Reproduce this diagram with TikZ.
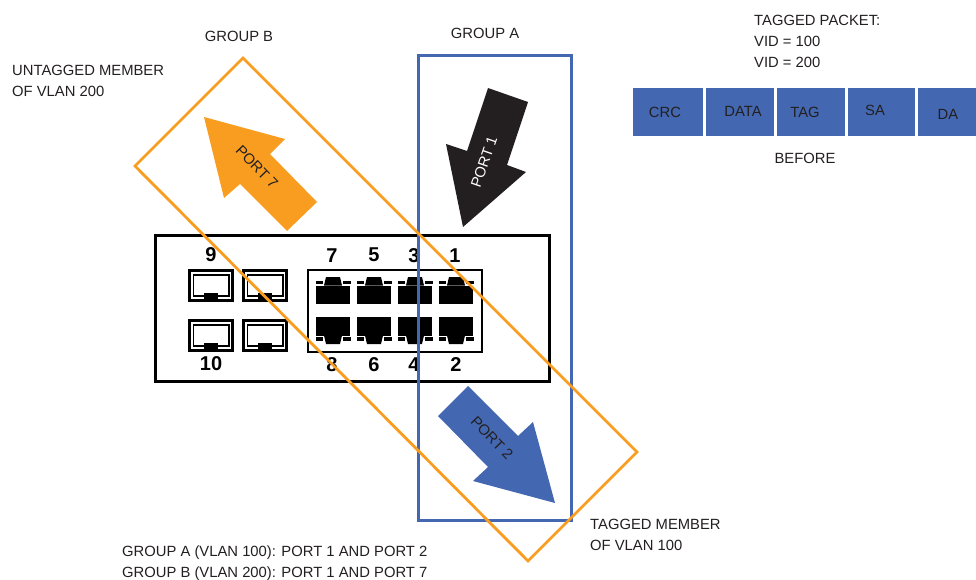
\documentclass[tikz,border=0pt]{standalone}
\usepackage{fontspec}
\setmainfont{Liberation Sans}
\usepackage{xcolor}
\usetikzlibrary{positioning,shapes}
\definecolor{vlanblue}{HTML}{4368B1}
\definecolor{vlanorange}{HTML}{F99D20}
\definecolor{inkblack}{HTML}{231F20}
\tikzset{
  caption/.style = {inner sep = 0, text = inkblack, align = left, font = \fontsize{14.8}{21}\selectfont},
  portnum/.style = {inner sep = 0, text = black, font = \fontsize{20}{20}\selectfont\bfseries},
  portarrow/.style = {inner sep = 0, text = inkblack, font = \fontsize{14.8}{16}\selectfont},
  groupbox/.style = {line width = 2.8},
  packetbox/.style = {fill = vlanblue},
  pics/sfp/.style = {code = {
    \draw[line width = 3] (1.5, 1.5) rectangle (44.5, 31.5);
    \draw[line width = 1.5] (5.5, 6) rectangle (41, 27);
    \fill (16, 24) rectangle (30, 31);
  }},
  pics/rjtop/.style = {code = {
    \fill (-17, 8.5) rectangle (17, 27);
    \fill (-7, 0) -- (7, 0) -- (9, 8.5) -- (-9, 8.5) -- cycle;
    \fill (-17, 3.5) rectangle (-10, 6.8);
    \fill (10, 3.5) rectangle (18, 6.8);
  }},
  pics/rjbottom/.style = {code = {
    \fill (-17, -8.5) rectangle (17, -27);
    \fill (-7, 0) -- (7, 0) -- (9, -8.5) -- (-9, -8.5) -- cycle;
    \fill (-17, -3.5) rectangle (-10, -6.8);
    \fill (10, -3.5) rectangle (18, -6.8);
  }}
}

\begin{document}
\begin{tikzpicture}[x = 1pt, y = -1pt]
  \useasboundingbox (0, 0) rectangle (976, 580);

  % switch
  \draw[line width = 3] (155, 235) rectangle (549, 381);
  \draw[line width = 2.6] (308, 270) rectangle (482, 352);

  \pic (S9) at (188, 269) {sfp};
  \pic (S11) at (242, 269) {sfp};
  \pic (S10) at (188, 319) {sfp};
  \pic (S12) at (242, 319) {sfp};

  \pic (R7) at (333, 277) {rjtop};
  \pic (R5) at (374, 277) {rjtop};
  \pic (R3) at (415, 277) {rjtop};
  \pic (R1) at (456, 277) {rjtop};
  \pic (R8) at (333, 344) {rjbottom};
  \pic (R6) at (374, 344) {rjbottom};
  \pic (R4) at (415, 344) {rjbottom};
  \pic (R2) at (456, 344) {rjbottom};

  \node[portnum] (N9) at (211, 255) {9};
  \node[portnum] (N7) at (332, 256) {7};
  \node[portnum] (N5) at (374, 255) {5};
  \node[portnum] (N3) at (414, 256) {3};
  \node[portnum] (N1) at (455, 256) {1};
  \node[portnum] (N10) at (211, 364) {10};
  \node[portnum] (N8) at (332, 365) {8};
  \node[portnum] (N6) at (374, 365) {6};
  \node[portnum] (N4) at (414, 365) {4};
  \node[portnum] (N2) at (456, 365) {2};

  % groups
  \draw[groupbox, vlanblue] (418.5, 55.5) rectangle (571.5, 520.5);
  \draw[groupbox, vlanorange] (243, 58) -- (637, 452) -- (528, 561) -- (135, 166) -- cycle;

  % arrows
  \fill[vlanorange] (204, 117) -- (285, 139) -- (270, 154) -- (317, 202) -- (287, 231) -- (240, 184) -- (224, 198) -- cycle;
  \fill[inkblack] (488, 88) -- (528, 102) -- (507, 165) -- (526, 172) -- (463, 227) -- (446, 144) -- (467, 151) -- cycle;
  \fill[vlanblue] (468, 386) -- (518, 436) -- (533, 422) -- (555, 503) -- (473, 481) -- (488, 467) -- (438, 416) -- cycle;

  \node[portarrow, rotate = -46] (L7) at (257, 167) {PORT 7};
  \node[portarrow, rotate = 71, text = white] (L1) at (484, 162) {PORT 1};
  \node[portarrow, rotate = -46] (L2) at (492, 438) {PORT 2};

  % packet
  \fill[packetbox] (633, 88) rectangle (703, 136);
  \fill[packetbox] (706, 88) rectangle (774, 136);
  \fill[packetbox] (777, 88) rectangle (845, 136);
  \fill[packetbox] (848, 88) rectangle (915, 136);
  \fill[packetbox] (918, 88) rectangle (976, 136);

  \node[caption] (CRC) at (665, 112.5) {CRC};
  \node[caption] (DATA) at (743, 111.5) {DATA};
  \node[caption] (TAG) at (805, 112.5) {TAG};
  \node[caption] (SA) at (875, 110.5) {SA};
  \node[caption] (DA) at (948, 114.5) {DA};

  % captions
  \node[caption] (GB) at (239, 36.5) {GROUP B};
  \node[caption] (GA) at (485, 33.5) {GROUP A};
  \node[caption, anchor = west] (UM) at (12, 80.5) {
    UNTAGGED MEMBER\\OF VLAN 200
  };
  \node[caption, anchor = west] (TP) at (754, 41.5) {
    TAGGED PACKET:\\VID = 100\\VID = 200
  };
  \node[caption] (BF) at (805, 158.5) {BEFORE};
  \node[caption, anchor = west] (TM) at (590, 534.5) {
    TAGGED MEMBER\\OF VLAN 100
  };
  \node[caption, anchor = west] (GL) at (122, 563.5) {
    GROUP A (VLAN 100): PORT 1 AND PORT 2\\GROUP B (VLAN 200): PORT 1 AND PORT 7
  };
\end{tikzpicture}
\end{document}
